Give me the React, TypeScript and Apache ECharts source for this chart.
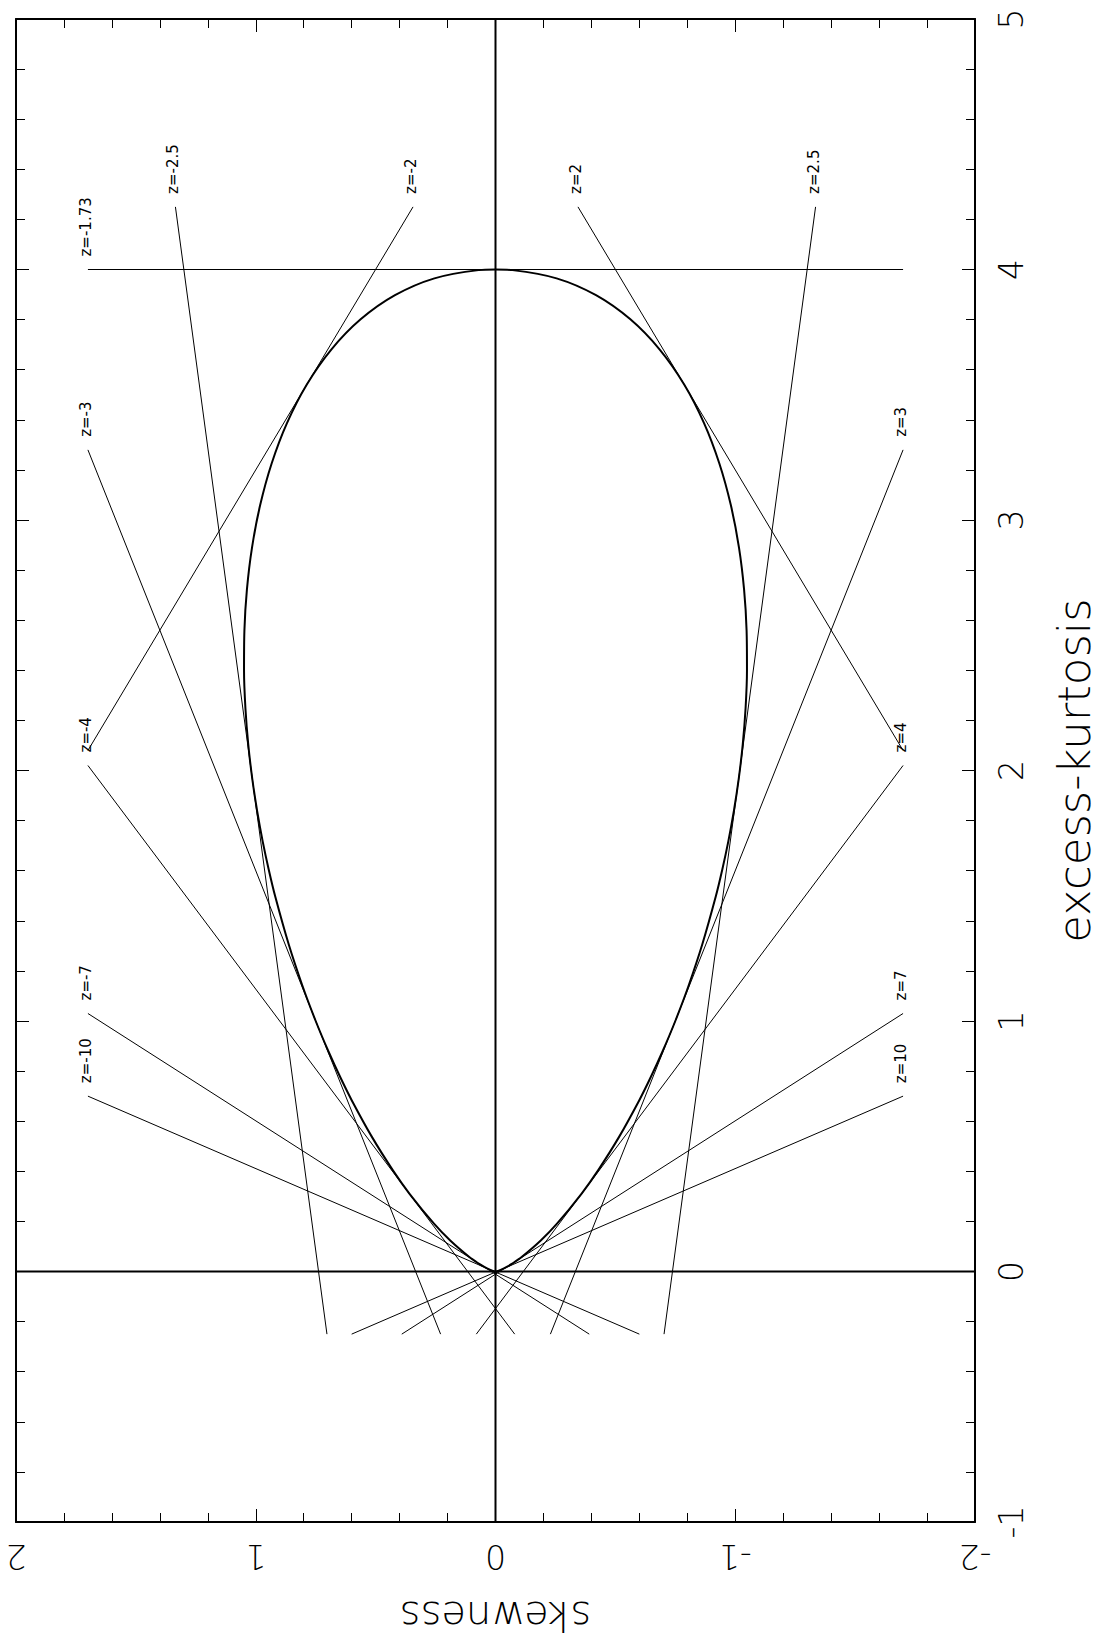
import React, { useEffect, useRef } from "react";
import * as echarts from "echarts";

// Boundary curve (skewness, excess kurtosis)
const curveKurtosis = [
  0, 0.0014, 0.0073, 0.0181, 0.0312, 0.0585, 0.1236, 0.1908, 0.3103, 0.4048,
  0.5374, 0.6829, 0.7733, 0.8782, 1.0, 1.1416, 1.3061, 1.4966, 1.6026, 1.7161,
  1.8374, 1.9666, 2.1038, 2.2487, 2.4007, 2.5592, 2.7229, 2.89, 3.0587, 3.2258,
  3.3879, 3.541, 3.6804, 3.801, 3.8975, 3.9647, 3.9975, 4.0,
];
const curveSkewLeft = [
  0, 0.0071, 0.024, 0.0468, 0.0697, 0.1103, 0.1888, 0.2565, 0.3585, 0.4286,
  0.5155, 0.5993, 0.6463, 0.6966, 0.75, 0.8057, 0.8626, 0.9187, 0.9455, 0.9709,
  0.9941, 1.0145, 1.0312, 1.0431, 1.0489, 1.0473, 1.0368, 1.0156, 0.9818, 0.9337,
  0.8693, 0.787, 0.685, 0.5626, 0.4192, 0.2549, 0.0707, 0,
];
const curveSkewRight = [
  0, -0.0071, -0.024, -0.0468, -0.0697, -0.1103, -0.1888, -0.2565, -0.3585, -0.4286,
  -0.5155, -0.5993, -0.6463, -0.6966, -0.75, -0.8057, -0.8626, -0.9187, -0.9455, -0.9709,
  -0.9941, -1.0145, -1.0312, -1.0431, -1.0489, -1.0473, -1.0368, -1.0156, -0.9818, -0.9337,
  -0.8693, -0.787, -0.685, -0.5626, -0.4192, -0.2549, -0.0707, 0,
];

// Straight z-lines: labelled end (start) and other end
const zLabels = ["z=-1.73", "z=-2.5", "z=-2", "z=-3", "z=-4", "z=-7", "z=-10", "z=2", "z=2.5", "z=3", "z=4", "z=7", "z=10"];
const zStartSkew = [1.7, 1.335, 0.344, 1.7, 1.7, 1.7, 1.7, -0.344, -1.335, -1.7, -1.7, -1.7, -1.7];
const zStartKurt = [4.0, 4.25, 4.25, 3.28, 2.02, 1.03, 0.7, 4.25, 4.25, 3.28, 2.02, 1.03, 0.7];
const zEndSkew = [-1.7, 0.703, 1.7, 0.229, -0.08, -0.391, -0.6, -1.7, -0.703, -0.229, 0.08, 0.391, 0.6];
const zEndKurt = [4.0, -0.25, 2.08, -0.25, -0.25, -0.25, -0.25, 2.08, -0.25, -0.25, -0.25, -0.25, -0.25];

// Reference axes through the origin
const zeroKurtLine = [[-2, 0], [2, 0]];
const zeroSkewLine = [[0, -1], [0, 5]];

const FONT = "DejaVu Sans";

export default function App() {
  const ref = useRef<HTMLDivElement>(null);
  useEffect(() => {
    document.body.style.margin = "0";
    if (!ref.current) return;
    const chart = echarts.init(ref.current, null, { renderer: "svg" });

    const axisLine = { show: true, onZero: false, lineStyle: { color: "#000", width: 2 } };
    const axisTick = { show: true, inside: true, length: 13, lineStyle: { color: "#000", width: 1 } };
    const minorTick = { show: true, splitNumber: 5, length: 9, lineStyle: { color: "#000", width: 1 } };

    const leftCurve = curveKurtosis.map((k, i) => [curveSkewLeft[i], k]);
    const rightCurve = curveKurtosis.map((k, i) => [curveSkewRight[i], k]).reverse();
    const curve = leftCurve.concat(rightCurve);

    const series: any[] = [
      {
        type: "line", data: zeroKurtLine, xAxisIndex: 0, yAxisIndex: 1, symbol: "none",
        lineStyle: { color: "#000", width: 2 }, silent: true,
      },
      {
        type: "line", data: zeroSkewLine, xAxisIndex: 0, yAxisIndex: 1, symbol: "none",
        lineStyle: { color: "#000", width: 2 }, silent: true,
      },
      {
        type: "line", data: curve, xAxisIndex: 0, yAxisIndex: 1, symbol: "none", smooth: 0.3,
        lineStyle: { color: "#000", width: 2 }, silent: true,
      },
    ];
    zLabels.forEach((_, i) => {
      series.push({
        type: "line", xAxisIndex: 0, yAxisIndex: 1, symbol: "none", silent: true,
        data: [[zStartSkew[i], zStartKurt[i]], [zEndSkew[i], zEndKurt[i]]],
        lineStyle: { color: "#000", width: 1 },
      });
    });

    chart.setOption({
      animation: false,
      backgroundColor: "#fff",
      grid: { left: 16, top: 19, width: 965, height: 1503, containLabel: false },
      xAxis: [
        {
          type: "value", position: "bottom", min: -2, max: 2, interval: 1, inverse: true,
          axisLine, axisTick, minorTick, splitLine: { show: false },
          axisLabel: { show: true, rotate: 180, margin: 18, fontSize: 33, fontFamily: FONT, fontWeight: 200, color: "#000" },
          name: "skewness", nameLocation: "middle", nameRotate: 180, nameGap: 74,
          nameTextStyle: { fontSize: 40, fontFamily: FONT, fontWeight: 200, color: "#000" },
        },
        {
          type: "value", position: "top", min: -2, max: 2, interval: 1, inverse: true,
          axisLine, axisTick, minorTick, splitLine: { show: false }, axisLabel: { show: false },
        },
      ],
      yAxis: [
        {
          type: "value", position: "left", min: -1, max: 5, interval: 1,
          axisLine, axisTick, minorTick, splitLine: { show: false }, axisLabel: { show: false },
        },
        {
          type: "value", position: "right", min: -1, max: 5, interval: 1,
          axisLine, axisTick, minorTick, splitLine: { show: false },
          axisLabel: { show: true, rotate: 90, margin: 20, fontSize: 33, fontFamily: FONT, fontWeight: 200, color: "#000" },
          name: "excess-kurtosis", nameLocation: "middle", nameRotate: 90, nameGap: 77,
          nameTextStyle: { fontSize: 45, fontFamily: FONT, fontWeight: 200, color: "#000" },
        },
      ],
      series,
    });

    const graphic = zLabels.map((t, i) => {
      const p = chart.convertToPixel({ xAxisIndex: 0, yAxisIndex: 1 }, [zStartSkew[i], zStartKurt[i]]) as number[];
      return {
        type: "text", x: p[0] - 2, y: p[1] - 13, rotation: Math.PI / 2, silent: true,
        style: { text: t, fontSize: 15, fontFamily: FONT, fill: "#000", align: "left", verticalAlign: "middle" },
      };
    });
    chart.setOption({ graphic });

    return () => chart.dispose();
  }, []);
  return <div ref={ref} style={{ width: 1105, height: 1650 }} />;
}
